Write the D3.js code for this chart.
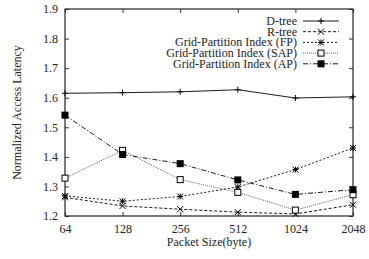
<!DOCTYPE html>
<html>
<head>
<meta charset="utf-8">
<script src="https://cdn.jsdelivr.net/npm/d3@7"></script>
<style>
  body { margin: 0; background: #fff; }
  svg text { font-family: "Liberation Serif", "Times New Roman", serif; }
</style>
</head>
<body>
<svg></svg>
<script>
const size = { w: 369, h: 259 };
const margin = { t: 9, r: 16, b: 43, l: 65 };
const fontSize = "12px";

const packetSizes = ["64", "128", "256", "512", "1024", "2048"];
const yTicks = [1.2, 1.3, 1.4, 1.5, 1.6, 1.7, 1.8, 1.9];

const dtree = [1.615, 1.617, 1.62, 1.627, 1.599, 1.603];
const rtree = [1.263, 1.234, 1.223, 1.213, 1.207, 1.238];
const gridFP = [1.268, 1.25, 1.266, 1.298, 1.357, 1.43];
const gridSAP = [1.328, 1.422, 1.323, 1.28, 1.22, 1.272];
const gridAP = [1.541, 1.408, 1.377, 1.322, 1.273, 1.289];

const series = [
  { name: "D-tree", values: dtree, dash: null, marker: "plus" },
  { name: "R-tree", values: rtree, dash: "3,2", marker: "cross" },
  { name: "Grid-Partition Index (FP)", values: gridFP, dash: "2,2", marker: "star" },
  { name: "Grid-Partition Index (SAP)", values: gridSAP, dash: "1,1", marker: "openSquare" },
  { name: "Grid-Partition Index (AP)", values: gridAP, dash: "5,2,1,2", marker: "filledSquare" }
];

const svg = d3.select("svg").attr("width", size.w).attr("height", size.h);

const xScale = d3.scalePoint()
  .domain(packetSizes)
  .range([margin.l, size.w - margin.r]);

const yScale = d3.scaleLinear()
  .domain([1.2, 1.9])
  .range([size.h - margin.b, margin.t]);

// axes (gnuplot-style inward ticks)
svg.append("g")
  .attr("transform", `translate(0, ${size.h - margin.b})`)
  .call(d3.axisBottom(xScale).tickSize(-4).tickPadding(8))
  .call(g => g.select(".domain").remove());
svg.append("g")
  .attr("transform", `translate(0, ${margin.t})`)
  .call(d3.axisTop(xScale).tickSize(-4).tickFormat(""))
  .call(g => g.select(".domain").remove());
svg.append("g")
  .attr("transform", `translate(${margin.l}, 0)`)
  .call(d3.axisLeft(yScale).tickValues(yTicks).tickFormat(d3.format(".1f")).tickSize(-4).tickPadding(7))
  .call(g => g.select(".domain").remove());
svg.append("g")
  .attr("transform", `translate(${size.w - margin.r}, 0)`)
  .call(d3.axisRight(yScale).tickValues(yTicks).tickSize(-4).tickFormat(""))
  .call(g => g.select(".domain").remove());

svg.selectAll(".tick line").attr("stroke", "#333");
svg.selectAll(".tick text")
  .attr("font-family", "Liberation Serif, serif")
  .attr("font-size", fontSize)
  .attr("fill", "#222");

svg.append("rect")
  .attr("x", margin.l)
  .attr("y", margin.t)
  .attr("width", size.w - margin.l - margin.r)
  .attr("height", size.h - margin.t - margin.b)
  .attr("fill", "none")
  .attr("stroke", "#222")
  .attr("stroke-width", 1.2);

// axis labels
svg.append("text")
  .attr("x", (margin.l + size.w - margin.r) / 2)
  .attr("y", 246)
  .attr("text-anchor", "middle")
  .attr("font-size", fontSize)
  .attr("fill", "#222")
  .text("Packet Size(byte)");
svg.append("text")
  .attr("transform", `translate(21, ${(margin.t + size.h - margin.b) / 2}) rotate(-90)`)
  .attr("text-anchor", "middle")
  .attr("font-size", fontSize)
  .attr("fill", "#222")
  .text("Normalized Access Latency");

function drawMarker(g, type, x, y) {
  const s = 3;
  if (type === "plus") {
    g.append("path").attr("d", `M${x - s},${y}H${x + s}M${x},${y - s}V${y + s}`)
      .attr("stroke", "#000").attr("stroke-width", 1);
  } else if (type === "cross") {
    g.append("path").attr("d", `M${x - s},${y - s}L${x + s},${y + s}M${x - s},${y + s}L${x + s},${y - s}`)
      .attr("stroke", "#000").attr("stroke-width", 1);
  } else if (type === "star") {
    g.append("path").attr("d", `M${x - s},${y - s}L${x + s},${y + s}M${x - s},${y + s}L${x + s},${y - s}M${x - s},${y}H${x + s}M${x},${y - s}V${y + s}`)
      .attr("stroke", "#000").attr("stroke-width", 1);
  } else if (type === "openSquare") {
    g.append("rect").attr("x", x - s).attr("y", y - s).attr("width", 2 * s).attr("height", 2 * s)
      .attr("fill", "#fff").attr("stroke", "#000").attr("stroke-width", 1);
  } else if (type === "filledSquare") {
    g.append("rect").attr("x", x - 3.5).attr("y", y - 3.5).attr("width", 7).attr("height", 7)
      .attr("fill", "#000");
  }
}

const line = d3.line()
  .x((d, i) => xScale(packetSizes[i]))
  .y(d => yScale(d));

series.forEach((s, k) => {
  const g = svg.append("g");
  g.append("path")
    .datum(s.values)
    .attr("d", line)
    .attr("fill", "none")
    .attr("stroke", s.marker === "openSquare" ? "#555" : "#000")
    .attr("stroke-width", 0.9)
    .attr("stroke-dasharray", s.dash);
  s.values.forEach((v, i) => drawMarker(g, s.marker, xScale(packetSizes[i]), yScale(v)));

  // legend row
  const ly = 21 + k * 10.7;
  svg.append("text")
    .attr("x", 297)
    .attr("y", ly + 4)
    .attr("text-anchor", "end")
    .attr("font-size", fontSize)
    .attr("fill", "#222")
    .text(s.name);
  svg.append("line")
    .attr("x1", 303).attr("x2", 339)
    .attr("y1", ly).attr("y2", ly)
    .attr("stroke", s.marker === "openSquare" ? "#555" : "#000")
    .attr("stroke-width", 0.9)
    .attr("stroke-dasharray", s.dash);
  drawMarker(svg.append("g"), s.marker, 321, ly);
});
</script>
</body>
</html>
